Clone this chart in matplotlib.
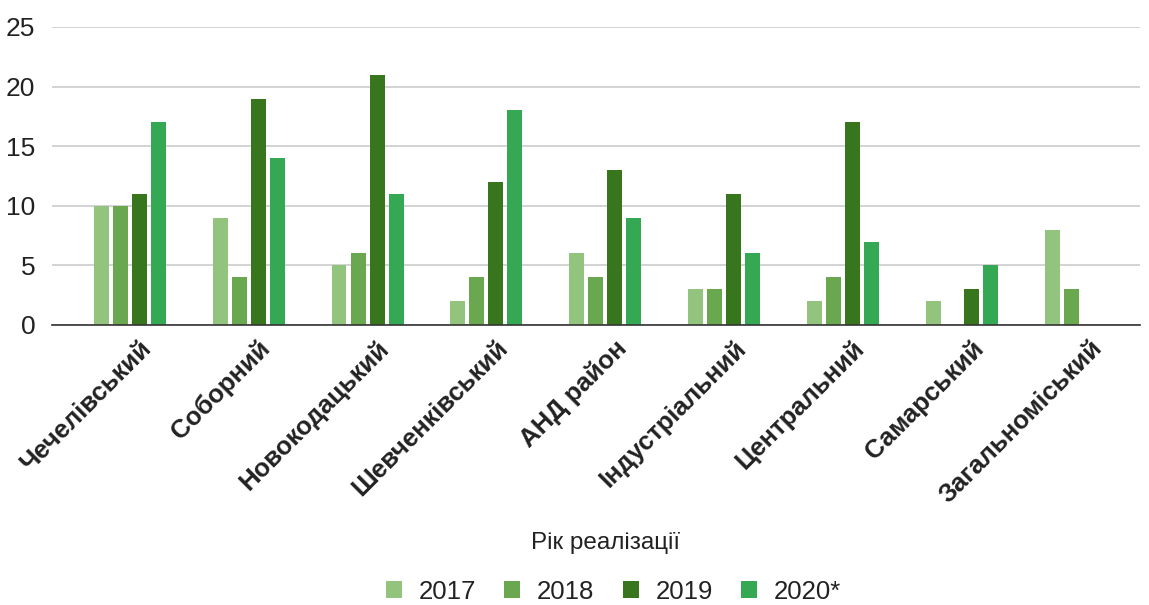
import matplotlib
matplotlib.use("Agg")
import matplotlib.pyplot as plt
import matplotlib.transforms as mtransforms
import numpy as np

plt.rcParams['font.family'] = ['Liberation Sans', 'DejaVu Sans']

# Кількість проєктів за районами та роками
rajony = ["Чечелівський", "Соборний", "Новокодацький", "Шевченківський",
          "АНД район", "Індустріальний", "Центральний", "Самарський",
          "Загальноміський"]
roky = ["2017", "2018", "2019", "2020*"]
v2017 = [10, 9, 5, 2, 6, 3, 2, 2, 8]
v2018 = [10, 4, 6, 4, 4, 3, 4, 0, 3]
v2019 = [11, 19, 21, 12, 13, 11, 17, 3, 0]
v2020 = [17, 14, 11, 18, 9, 6, 7, 5, 0]
kolory = ["#93c47d", "#6aa84f", "#38761d", "#34a853"]

seriyi = [v2017, v2018, v2019, v2020]

fig = plt.figure(figsize=(11.49, 6.05), dpi=100)
ax = fig.add_axes([52 / 1149, 280 / 605, 1088 / 1149, 298 / 605])

x = np.arange(len(rajony))
shyryna = 0.126
krok = 0.16
zsuvy = [-1.5 * krok, -0.5 * krok, 0.5 * krok, 1.5 * krok]

for s, zs, kol, rik in zip(seriyi, zsuvy, kolory, roky):
    vals = np.array(s, dtype=float)
    ax.bar(x + zs, vals, width=shyryna, color=kol, label=rik, zorder=3)

ax.set_xlim(-0.655, 8.5)
ax.set_ylim(0, 25)
ax.set_yticks([0, 5, 10, 15, 20, 25])
ax.grid(axis='y', color='#cccccc', linewidth=1.2, zorder=0)
for sp in ['top', 'right', 'left']:
    ax.spines[sp].set_visible(False)
ax.spines['bottom'].set_color('#333333')
ax.spines['bottom'].set_linewidth(1.2)
ax.spines['bottom'].set_zorder(4)
ax.tick_params(axis='y', length=0, labelsize=19, labelcolor='#222222', pad=12)
ax.tick_params(axis='x', length=0, pad=8)

ax.set_xticks(x)
ax.set_xticklabels(rajony, rotation=45, ha='right', rotation_mode='anchor',
                   fontsize=18.5, fontweight='bold', color='#222222')
zsuv = mtransforms.ScaledTranslation(9 / 100, 0, fig.dpi_scale_trans)
for lbl in ax.get_xticklabels():
    lbl.set_transform(lbl.get_transform() + zsuv)

fig.text(0.527, 0.102, "Рік реалізації", ha='center', va='center',
         fontsize=17.5, color='#222222')

fig.legend(loc='center', bbox_to_anchor=(0.534, 0.022), ncol=4, frameon=False,
           fontsize=18.5, handlelength=0.62, handleheight=0.62, handletextpad=0.65,
           columnspacing=1.1, labelcolor='#222222')

fig.savefig("out.png", dpi=100)
